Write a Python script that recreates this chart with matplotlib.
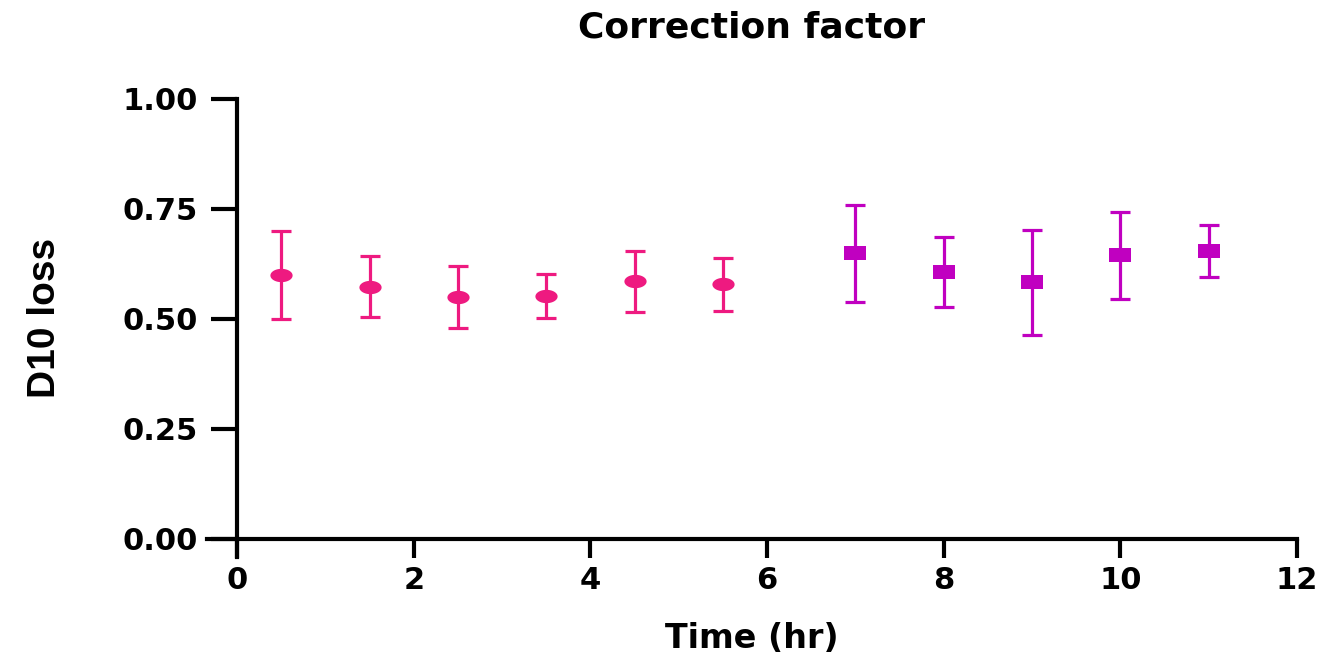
import numpy as np
import matplotlib
matplotlib.use("Agg")
import matplotlib.pyplot as plt
from matplotlib.path import Path as MPath


# D10 loss correction factor, mean +/- error per time point
time_early = [0.5, 1.5, 2.5, 3.5, 4.5, 5.5]
loss_early = [0.600, 0.573, 0.550, 0.551, 0.585, 0.578]
err_early = [0.100, 0.070, 0.070, 0.050, 0.070, 0.060]

time_late = [7, 8, 9, 10, 11]
loss_late = [0.649, 0.607, 0.583, 0.644, 0.654]
err_late = [0.110, 0.080, 0.120, 0.100, 0.060]

x_ticks = [0, 2, 4, 6, 8, 10, 12]
y_ticks = [0.00, 0.25, 0.50, 0.75, 1.00]

PINK = "#EE1A80"
PURPLE = "#C000C0"

# flattened markers (wider than tall)
theta = np.linspace(0, 2 * np.pi, 64)
ellipse_marker = MPath(np.column_stack([np.cos(theta), 0.6 * np.sin(theta)]), closed=True)
rect_marker = MPath([(-1, -0.57), (1, -0.57), (1, 0.57), (-1, 0.57), (-1, -0.57)], closed=True)

fig = plt.figure(figsize=(13.32, 6.61), dpi=100)
ax = fig.add_axes([207 / 1332, 1 - 557 / 661, 1090 / 1332, 458 / 661])

err_style = dict(fmt="none", elinewidth=2.3, capsize=7.5, capthick=2.3, zorder=2)
ax.errorbar(time_early, loss_early, yerr=err_early, ecolor=PINK, **err_style)
ax.errorbar(time_late, loss_late, yerr=err_late, ecolor=PURPLE, **err_style)

ax.plot(time_early, loss_early, linestyle="none", marker=ellipse_marker,
        markersize=16, color=PINK, markeredgewidth=0, zorder=3)
ax.plot(time_late, loss_late, linestyle="none", marker=rect_marker,
        markersize=16.5, color=PURPLE, markeredgewidth=0, zorder=3)

ax.set_xlim(-0.34, 12)
ax.set_ylim(-0.042, 1.0)
ax.spines["left"].set_position(("data", 0))
ax.spines["bottom"].set_position(("data", 0))
ax.spines["right"].set_visible(False)
ax.spines["top"].set_visible(False)
for side in ("left", "bottom"):
    ax.spines[side].set_linewidth(3.0)
    ax.spines[side].set_capstyle("projecting")

ax.set_xticks(x_ticks)
ax.set_xticklabels([str(t) for t in x_ticks])
ax.set_yticks(y_ticks)
ax.set_yticklabels([f"{t:.2f}" for t in y_ticks])

ax.tick_params(axis="y", length=19, width=3.0, pad=9, direction="out")
ax.tick_params(axis="x", length=14, width=3.0, pad=6, direction="out")
for lbl in ax.get_yticklabels():
    lbl.set_fontfamily("DejaVu Sans")
    lbl.set_fontweight("bold")
    lbl.set_fontsize(22)
for lbl in ax.get_xticklabels():
    lbl.set_fontfamily("DejaVu Sans")
    lbl.set_fontweight("bold")
    lbl.set_fontsize(22)

ax.set_title("Correction factor", fontfamily="DejaVu Sans", fontweight="bold",
             fontsize=26, pad=44)
ax.set_xlabel("Time (hr)", fontfamily="DejaVu Sans", fontweight="bold",
              fontsize=24, labelpad=19)
ax.set_ylabel("D10 loss", fontfamily="Liberation Sans", fontweight="bold",
              fontsize=28)
ax.yaxis.set_label_coords(-0.132, 0.522)

fig.savefig("out.png", dpi=100)
